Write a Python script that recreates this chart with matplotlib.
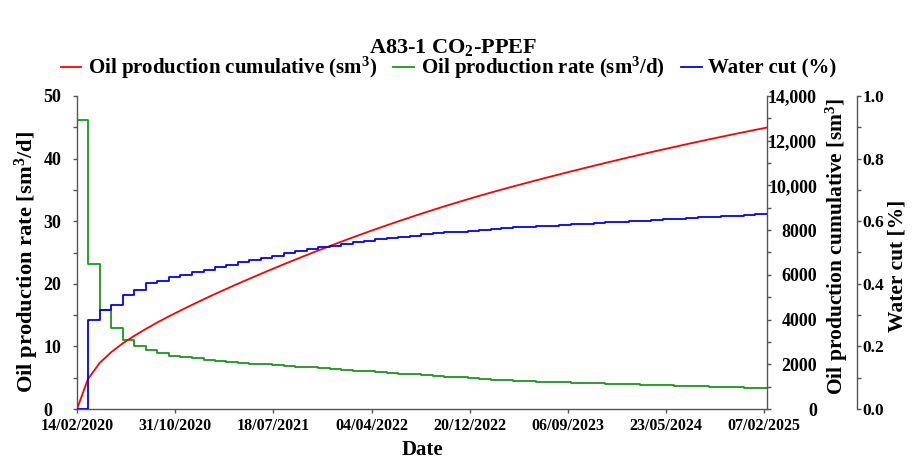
import numpy as np
import pandas as pd
import matplotlib
matplotlib.use('Agg')
import matplotlib.pyplot as plt
import matplotlib.dates as mdates
from matplotlib.ticker import FixedLocator, FixedFormatter, MultipleLocator

plt.rcParams['font.family'] = 'Liberation Serif'
plt.rcParams['font.weight'] = 'bold'
plt.rcParams['mathtext.fontset'] = 'custom'
plt.rcParams['mathtext.rm'] = 'Liberation Serif:bold'
plt.rcParams['mathtext.bf'] = 'Liberation Serif:bold'
plt.rcParams['mathtext.it'] = 'Liberation Serif:bold:italic'

# monthly report dates (61 edges -> 60 monthly steps)
start_date = '2020-02-14'
n_months = 60

# oil production rate, sm3/d, one value per month
oil_rate = [46.2, 23.2, 15.8, 13.0, 11.0, 10.1, 9.5, 8.9, 8.5, 8.3,
            8.1, 7.85, 7.65, 7.5, 7.35, 7.22, 7.12, 7.0, 6.88, 6.76,
            6.64, 6.52, 6.4, 6.27, 6.15, 6.03, 5.91, 5.79, 5.67, 5.55,
            5.43, 5.31, 5.19, 5.07, 4.95, 4.83, 4.71, 4.59, 4.49, 4.44,
            4.39, 4.33, 4.28, 4.22, 4.17, 4.11, 4.06, 4.0, 3.95, 3.89,
            3.84, 3.78, 3.73, 3.67, 3.62, 3.56, 3.51, 3.45, 3.4, 3.34]

# water cut, fraction, one value per month
water_cut = [0.0, 0.283, 0.316, 0.332, 0.364, 0.381, 0.401, 0.41, 0.421, 0.428,
             0.437, 0.444, 0.453, 0.46, 0.469, 0.476, 0.483, 0.49, 0.497, 0.504,
             0.51, 0.516, 0.522, 0.527, 0.532, 0.537, 0.542, 0.546, 0.55, 0.554,
             0.558, 0.561, 0.564, 0.567, 0.57, 0.573, 0.575, 0.577, 0.58, 0.582,
             0.584, 0.586, 0.588, 0.59, 0.592, 0.594, 0.596, 0.598, 0.6, 0.602,
             0.604, 0.606, 0.608, 0.61, 0.612, 0.614, 0.616, 0.618, 0.62, 0.622]

# cumulative oil, sm3, at each monthly date
oil_cum = [0, 1340, 2059, 2533, 2936, 3266, 3579, 3874, 4141, 4404,
           4653, 4904, 5148, 5362, 5594, 5815, 6039, 6252, 6469, 6683,
           6885, 7091, 7287, 7485, 7680, 7852, 8039, 8216, 8396, 8566,
           8738, 8906, 9065, 9226, 9378, 9532, 9681, 9813, 9956, 10090,
           10228, 10360, 10494, 10627, 10753, 10882, 11006, 11132, 11256, 11370,
           11491, 11606, 11723, 11835, 11949, 12061, 12168, 12277, 12380, 12486,
           12589]

x_ticks = ['14/02/2020', '31/10/2020', '18/07/2021', '04/04/2022',
           '20/12/2022', '06/09/2023', '23/05/2024', '07/02/2025']
cum_ticks = [0, 2000, 4000, 6000, 8000, 10000, 12000, 14000]
cum_labels = ['0', '2000', '4000', '6000', '8000', '10,000', '12,000', '14,000']

dates = pd.date_range(start_date, periods=n_months + 1, freq=pd.DateOffset(months=1))
rate_steps = np.append(oil_rate, oil_rate[-1])
wc_steps = np.append(water_cut, water_cut[-1])

grey = '#555555'

fig = plt.figure(figsize=(9.18, 4.62), dpi=100)
ax1 = fig.add_axes([77/918, 1 - 409/462, 690/918, 313/462])
ax2 = ax1.twinx()
ax3 = ax1.twinx()
ax3.spines['right'].set_position(('axes', 780/690))

l_rate, = ax1.step(dates, rate_steps, where='post', color='#1a961a', lw=1.3,
                   label='Oil production rate (sm$^{3}$/d)')
l_cum, = ax2.plot(dates, oil_cum, color='#ff0000', lw=1.3,
                  label='Oil production cumulative (sm$^{3}$)')
l_wc, = ax3.step(dates, wc_steps, where='post', color='#0000ff', lw=1.3,
                 label='Water cut (%)')

# spines
for ax in (ax1, ax2, ax3):
    ax.spines['top'].set_visible(False)
    for s in ax.spines.values():
        s.set_color(grey)
        s.set_linewidth(1.0)
ax1.spines['right'].set_visible(False)
for ax in (ax2, ax3):
    ax.spines['left'].set_visible(False)
    ax.spines['bottom'].set_visible(False)

# x axis
ax1.set_xlim(dates[0], dates[-1])
ax1.xaxis.set_major_locator(FixedLocator(mdates.date2num(pd.to_datetime(x_ticks, dayfirst=True))))
ax1.xaxis.set_major_formatter(mdates.DateFormatter('%d/%m/%Y'))
ax1.tick_params(axis='x', direction='out', length=3, width=1, color=grey,
                labelsize=11.5, pad=3.5)
ax1.set_xlabel('Date', fontsize=15, fontweight='bold')
ax1.xaxis.set_label_coords(0.5, -0.1)

# left axis: rate (labels left-aligned, as in the original)
ax1.set_ylim(0, 50)
ax1.yaxis.set_major_locator(MultipleLocator(10))
ax1.yaxis.set_minor_locator(MultipleLocator(5))
ax1.tick_params(axis='y', which='both', direction='out', length=3, width=1,
                color=grey, labelsize=13, pad=21)
plt.setp(ax1.get_yticklabels(), ha='left')
ax1.set_ylabel('Oil production rate [sm$^{3}$/d]', fontsize=16.2, fontweight='bold')
ax1.yaxis.set_label_coords(-0.052, 0.47)

# right axis: cumulative (labels right-aligned)
ax2.set_ylim(0, 14000)
ax2.yaxis.set_major_locator(FixedLocator(cum_ticks))
ax2.yaxis.set_major_formatter(FixedFormatter(cum_labels))
ax2.yaxis.set_minor_locator(MultipleLocator(1000))
ax2.tick_params(axis='y', which='both', direction='out', length=3, width=1,
                color=grey, labelsize=13, pad=33)
plt.setp(ax2.get_yticklabels(), ha='right')
ax2.set_ylabel('Oil production cumulative [sm$^{3}$]', fontsize=15.5, fontweight='bold')
ax2.yaxis.set_label_coords(1.082, 0.52)

# second right axis: water cut
ax3.set_ylim(0, 1.0)
ax3.yaxis.set_major_locator(MultipleLocator(0.2))
ax3.yaxis.set_minor_locator(MultipleLocator(0.1))
ax3.yaxis.set_major_formatter(matplotlib.ticker.FormatStrFormatter('%.1f'))
ax3.tick_params(axis='y', which='both', direction='out', length=3, width=1,
                color=grey, labelsize=12.5, pad=1)
ax3.set_ylabel('Water cut [%]', fontsize=15.5, fontweight='bold')
ax3.yaxis.set_label_coords(1.174, 0.457)

fig.text(0.494, 0.898, 'A83-1 CO$_{2}$-PPEF', ha='center', va='center',
         fontsize=16, fontweight='bold')
fig.legend(handles=[l_cum, l_rate, l_wc], loc='center', bbox_to_anchor=(0.4886, 0.853),
           ncol=3, frameon=False, fontsize=15, handlelength=1.0,
           handletextpad=0.3, columnspacing=0.8)

fig.savefig('out.png', dpi=100)
